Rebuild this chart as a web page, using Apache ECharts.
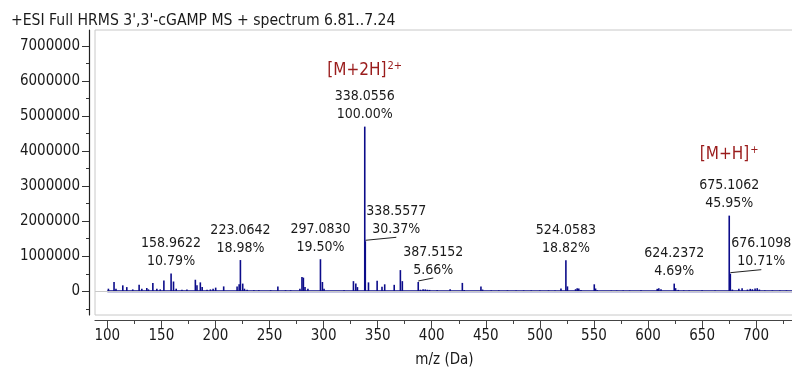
<!DOCTYPE html>
<html>
<head>
<meta charset="utf-8">
<script src="https://cdn.jsdelivr.net/npm/echarts@6/dist/echarts.min.js"></script>
<style>
html,body{margin:0;padding:0;background:#fff;}
#chart{width:792px;height:367px;}
</style>
</head>
<body>
<div id="chart"></div>
<script>
// ---------- DATA ----------
const TITLE = "+ESI Full HRMS 3',3'-cGAMP MS + spectrum 6.81..7.24";
const X_NAME = 'm/z (Da)';

// peak centroids (m/z) and intensities (counts)
const PEAK_MZ = [
  101.0, 106.2, 108.0, 114.3, 118.0, 123.5, 129.4, 131.9, 136.5, 138.0,
  142.1, 145.8, 148.9, 152.3, 158.9622, 161.2, 163.7, 169.0, 173.6, 181.4,
  182.9, 186.0, 187.7, 192.2, 195.3, 197.8, 200.2, 207.6, 220.0, 221.9,
  223.0642, 225.2, 226.8, 229.3, 235.5, 240.1, 251.0, 257.7, 264.8, 269.5,
  278.1, 280.0, 281.3, 282.8, 285.5, 297.0830, 298.9, 300.4, 318.9, 327.6,
  329.8, 331.3, 338.0556, 338.5577, 341.5, 349.5, 354.0, 356.5, 365.3, 371.0,
  372.8, 387.5152, 389.5, 392.0, 394.0, 396.0, 398.0, 405.0, 417.0, 428.3,
  430.0, 445.5, 447.0, 455.0, 462.0, 470.0, 478.0, 485.0, 492.0, 500.0,
  508.0, 514.0, 519.5, 524.0583, 525.5, 533.0, 534.5, 536.0, 538.0, 550.3,
  551.5, 553.0, 566.0, 571.0, 577.0, 583.0, 593.5, 608.5, 610.0, 612.0,
  624.2372, 625.5, 628.0, 633.0, 638.0, 650.0, 662.0, 675.1062, 676.1098, 678.0,
  684.0, 687.0, 692.0, 694.5, 696.5, 699.0, 701.0, 703.0, 708.0, 715.0,
  722.0, 728.0
];
const PEAK_INT = [
  75000, 265000, 75000, 170000, 120000, 55000, 190000, 75000, 95000, 55000,
  235000, 75000, 55000, 310000, 507000, 280000, 75000, 45000, 55000, 330000,
  170000, 255000, 120000, 45000, 55000, 75000, 105000, 140000, 140000, 200000,
  892000, 220000, 75000, 45000, 30000, 30000, 30000, 140000, 30000, 30000,
  75000, 405000, 390000, 120000, 75000, 916000, 265000, 75000, 30000, 290000,
  220000, 120000, 4700000, 1427000, 255000, 300000, 130000, 200000, 185000, 605000,
  290000, 266000, 45000, 60000, 55000, 45000, 40000, 30000, 60000, 240000,
  40000, 140000, 50000, 25000, 25000, 25000, 25000, 25000, 25000, 25000,
  25000, 25000, 80000, 884000, 140000, 60000, 90000, 80000, 40000, 200000,
  80000, 30000, 20000, 20000, 20000, 20000, 30000, 70000, 90000, 60000,
  220000, 90000, 40000, 25000, 25000, 30000, 20000, 2160000, 503000, 50000,
  70000, 90000, 50000, 70000, 60000, 80000, 90000, 50000, 25000, 25000,
  25000, 25000
];

// annotated peaks
const ANNOT_MZ  = [158.9622, 223.0642, 297.0830, 338.0556, 338.5577, 387.5152, 524.0583, 624.2372, 675.1062, 676.1098];
const ANNOT_INT = [507000, 892000, 916000, 4700000, 1427000, 266000, 884000, 220000, 2160000, 503000];
const ANNOT_TXT = ['158.9622', '223.0642', '297.0830', '338.0556', '338.5577', '387.5152', '524.0583', '624.2372', '675.1062', '676.1098'];
const ANNOT_PCT = ['10.79%', '18.98%', '19.50%', '100.00%', '30.37%', '5.66%', '18.82%', '4.69%', '45.95%', '10.71%'];

// ion assignments
const ION_MZ     = [338.0556, 675.1062];
const ION_INT    = [4700000, 2160000];
const ION_BASE   = ['[M+2H]', '[M+H]'];
const ION_CHARGE = ['2+', '+'];

// spectrum baseline range
const SPEC_RANGE = [100, 735];

// ticks
const X_TICKS = [100, 150, 200, 250, 300, 350, 400, 450, 500, 550, 600, 650, 700];
const X_MINOR = [125, 175, 225, 275, 325, 375, 425, 475, 525, 575, 625, 675, 725];
const Y_TICKS = [0, 1000000, 2000000, 3000000, 4000000, 5000000, 6000000, 7000000];
const Y_MINOR = [-500000, 500000, 1500000, 2500000, 3500000, 4500000, 5500000, 6500000];

// ---------- STYLE ----------
const FONT = "'DejaVu Sans Condensed', 'Liberation Sans', sans-serif";
const NAVY = '#0c0c8a';
const TEXT = '#1a1a1a';
const RED = '#9a1c1c';
const LABEL_DX = [0, 0, 0, 0, 31, 15, 0, 0, 0, 31]; // horizontal label shift (px)
const ION_DY = [56, 61]; // ion label centre above peak top (px)

const X_RANGE = [88.6, 735];
const Y_RANGE = [-676000, 7457000];

const peakData = PEAK_MZ.map((m, i) => [m, PEAK_INT[i]]);
const annotData = ANNOT_MZ.map((m, i) => [m, ANNOT_INT[i], i]);
const ionData = ION_MZ.map((m, i) => [m, ION_INT[i], i]);

const chart = echarts.init(document.getElementById('chart'), null, {renderer: 'canvas'});

const option = {
  animation: false,
  backgroundColor: '#ffffff',
  textStyle: {fontFamily: FONT},
  title: {
    text: TITLE, left: 6, top: 8,
    textStyle: {fontFamily: FONT, fontSize: 15.6, fontWeight: 'normal', color: TEXT}
  },
  grid: {
    left: 95, right: -2, top: 30, bottom: 52,
    outerBoundsMode: 'none', containLabel: false,
    show: true, borderColor: '#c8c8c8', borderWidth: 1, backgroundColor: 'transparent'
  },
  xAxis: [
    {
      type: 'value', min: X_RANGE[0], max: X_RANGE[1], position: 'bottom', offset: 5,
      axisLine: {show: true, onZero: false, lineStyle: {color: '#444', width: 1.2}},
      axisTick: {show: true, customValues: X_TICKS, length: 8, lineStyle: {color: '#444'}},
      axisLabel: {customValues: X_TICKS, margin: 9, fontSize: 15, color: TEXT, fontFamily: FONT,
                  formatter: v => String(v)},
      splitLine: {show: false},
      name: X_NAME, nameLocation: 'middle', nameGap: 33,
      nameTextStyle: {fontSize: 15, color: TEXT, fontFamily: FONT}
    },
    {
      type: 'value', min: X_RANGE[0], max: X_RANGE[1], position: 'bottom', offset: 5,
      axisLine: {show: false, onZero: false},
      axisTick: {show: true, customValues: X_MINOR, length: 4, lineStyle: {color: '#444'}},
      axisLabel: {show: false},
      splitLine: {show: false}
    }
  ],
  yAxis: [
    {
      type: 'value', min: Y_RANGE[0], max: Y_RANGE[1], position: 'left', offset: 6,
      axisLine: {show: true, onZero: false, lineStyle: {color: '#222', width: 1.2}},
      axisTick: {show: true, customValues: Y_TICKS, length: 7, lineStyle: {color: '#333'}},
      axisLabel: {customValues: Y_TICKS, margin: 9, fontSize: 15, color: TEXT, fontFamily: FONT,
                  formatter: v => String(v)},
      splitLine: {show: false}
    },
    {
      type: 'value', min: Y_RANGE[0], max: Y_RANGE[1], position: 'left', offset: 6,
      axisLine: {show: false, onZero: false},
      axisTick: {show: true, customValues: Y_MINOR, length: 3, lineStyle: {color: '#333'}},
      axisLabel: {show: false},
      splitLine: {show: false}
    }
  ],
  series: [
    {
      type: 'line', name: 'zero', xAxisIndex: 0, yAxisIndex: 0,
      data: [], silent: true,
      markLine: {
        silent: true, symbol: 'none', label: {show: false},
        lineStyle: {color: '#c8c8c8', width: 1, type: 'solid'},
        data: [{yAxis: 0}]
      }
    },
    {
      type: 'line', name: 'baseline', xAxisIndex: 0, yAxisIndex: 0,
      data: SPEC_RANGE.map(m => [m, 0]), symbol: 'none', silent: true,
      lineStyle: {color: NAVY, width: 2}
    },
    {
      type: 'bar', name: 'spectrum', xAxisIndex: 0, yAxisIndex: 0,
      data: peakData, barWidth: 1.6, silent: true,
      itemStyle: {color: NAVY}
    },
    {
      type: 'custom', name: 'annotations', xAxisIndex: 0, yAxisIndex: 0,
      data: annotData, silent: true,
      renderItem: function (params, api) {
        const idx = api.value(2);
        const p = api.coord([api.value(0), api.value(1)]);
        const dx = LABEL_DX[idx];
        const children = [{
          type: 'text',
          style: {
            x: p[0] + dx, y: p[1] - 3,
            text: ANNOT_TXT[idx] + '\n' + ANNOT_PCT[idx],
            textAlign: 'center', textVerticalAlign: 'bottom',
            font: '14px ' + FONT, lineHeight: 18, fill: TEXT
          }
        }];
        if (dx) {
          children.push({
            type: 'line',
            shape: {x1: p[0], y1: p[1] - 1, x2: p[0] + dx, y2: p[1] - 4},
            style: {stroke: '#222', lineWidth: 1}
          });
        }
        return {type: 'group', children: children};
      }
    },
    {
      type: 'custom', name: 'ions', xAxisIndex: 0, yAxisIndex: 0,
      data: ionData, silent: true,
      renderItem: function (params, api) {
        const idx = api.value(2);
        const p = api.coord([api.value(0), api.value(1)]);
        return {
          type: 'text',
          style: {
            x: p[0], y: p[1] - ION_DY[idx],
            text: '{b|' + ION_BASE[idx] + '}{s|' + ION_CHARGE[idx] + '}',
            textAlign: 'center', textVerticalAlign: 'middle',
            rich: {
              b: {fontFamily: FONT, fontSize: 17, fill: RED, color: RED},
              s: {fontFamily: FONT, fontSize: 11, fill: RED, color: RED, padding: [0, 0, 9, 1]}
            }
          }
        };
      }
    }
  ]
};
chart.setOption(option);
</script>
</body>
</html>
